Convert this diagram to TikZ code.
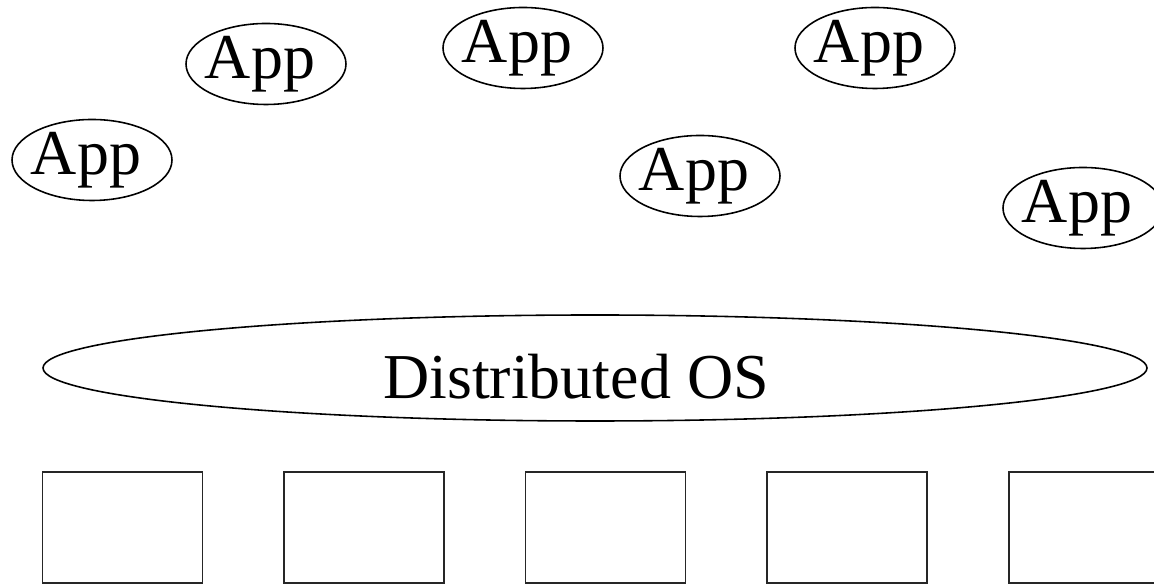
\documentclass[tikz,border=0pt]{standalone}
\usepackage{fontspec}
\setmainfont{Liberation Serif}
\usetikzlibrary{positioning}
\usetikzlibrary{shapes.geometric}

\begin{document}
\begin{tikzpicture}[app/.style={draw, ellipse, line width=0.45pt, inner sep=0pt, minimum width=16mm, minimum height=8.1mm, font=\fontsize{18.2}{20}\selectfont,
                        execute at begin node={\hspace*{-0.6mm}}, execute at end node={\hspace*{0.6mm}}},
                    machine/.style={draw, rectangle, line width=0.45pt, draw=black!85, minimum width=16mm, minimum height=11.1mm, inner sep=0pt}]
            \clip (0,0) rectangle (11.54,-5.84);

            \node[app] (A1) at (2.66,-0.64) {App};
            \node[app] (A2) at (5.23,-0.48) {App};
            \node[app] (A3) at (8.75,-0.48) {App};
            \node[app] (A4) at (0.92,-1.60) {App};
            \node[app] (A5) at (7.00,-1.76) {App};
            \node[app] (A6) at (10.83,-2.08) {App};

            \node[app, minimum width=110.4mm, minimum height=10.6mm,
                  label={[font=\fontsize{18.2}{20}\selectfont, xshift=-1.9mm, yshift=-0.9mm]center:Distributed OS}] (OS) at (5.95,-3.68) {};

            \node[machine] (M1) at (1.225,-5.275) {};
            \node[machine, right = 8mm of M1] (M2) {};
            \node[machine, right = 8mm of M2] (M3) {};
            \node[machine, right = 8mm of M3] (M4) {};
            \node[machine, right = 8mm of M4] (M5) {};
        \end{tikzpicture}
\end{document}
